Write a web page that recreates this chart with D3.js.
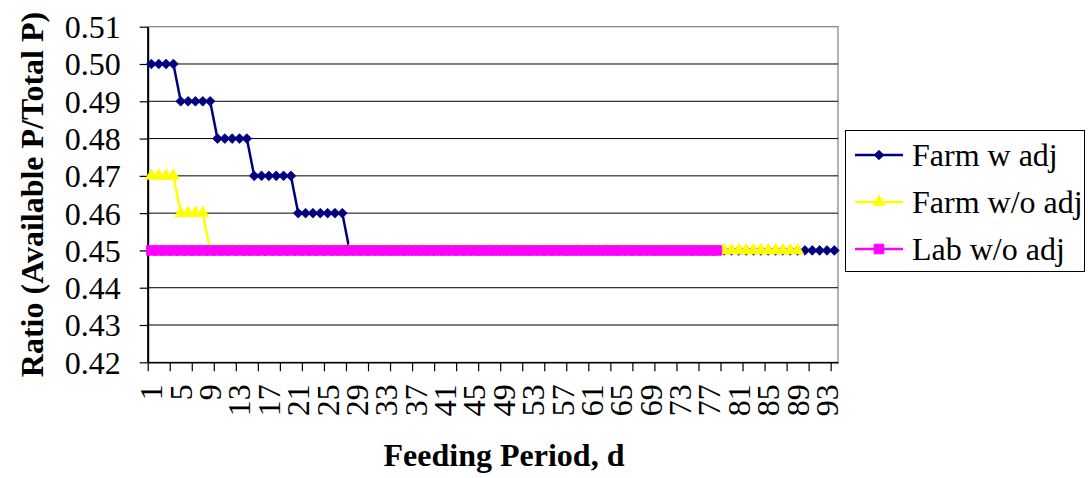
<!DOCTYPE html>
<html>
<head>
<meta charset="utf-8">
<script src="https://cdn.jsdelivr.net/npm/d3@7"></script>
<style>
  html, body { margin: 0; padding: 0; background: #fff; }
  svg { display: block; }
  text { font-family: "Liberation Serif", "Times New Roman", serif; fill: #000; }
</style>
</head>
<body>
<svg id="chart" width="1088" height="478"></svg>
<script>
// Feeding day categories
const days = [
  1, 2, 3, 4, 5, 6, 7, 8, 9, 10, 11, 12, 13, 14, 15, 16, 17, 18, 19, 20,
  21, 22, 23, 24, 25, 26, 27, 28, 29, 30, 31, 32, 33, 34, 35, 36, 37, 38, 39, 40,
  41, 42, 43, 44, 45, 46, 47, 48, 49, 50, 51, 52, 53, 54, 55, 56, 57, 58, 59, 60,
  61, 62, 63, 64, 65, 66, 67, 68, 69, 70, 71, 72, 73, 74, 75, 76, 77, 78, 79, 80,
  81, 82, 83, 84, 85, 86, 87, 88, 89, 90, 91, 92, 93, 94
];

// Ratio of available P to total P, one value per day
const farmWithAdj = [
  0.50, 0.50, 0.50, 0.50,
  0.49, 0.49, 0.49, 0.49, 0.49,
  0.48, 0.48, 0.48, 0.48, 0.48,
  0.47, 0.47, 0.47, 0.47, 0.47, 0.47,
  0.46, 0.46, 0.46, 0.46, 0.46, 0.46, 0.46,
  0.45, 0.45, 0.45, 0.45, 0.45, 0.45, 0.45, 0.45, 0.45, 0.45,
  0.45, 0.45, 0.45, 0.45, 0.45, 0.45, 0.45, 0.45, 0.45, 0.45,
  0.45, 0.45, 0.45, 0.45, 0.45, 0.45, 0.45, 0.45, 0.45, 0.45,
  0.45, 0.45, 0.45, 0.45, 0.45, 0.45, 0.45, 0.45, 0.45, 0.45,
  0.45, 0.45, 0.45, 0.45, 0.45, 0.45, 0.45, 0.45, 0.45, 0.45,
  0.45, 0.45, 0.45, 0.45, 0.45, 0.45, 0.45, 0.45, 0.45, 0.45,
  0.45, 0.45, 0.45, 0.45, 0.45, 0.45, 0.45
];
const farmWithoutAdj = [
  0.47, 0.47, 0.47, 0.47,
  0.46, 0.46, 0.46, 0.46,
  0.45, 0.45, 0.45, 0.45, 0.45, 0.45, 0.45, 0.45, 0.45, 0.45,
  0.45, 0.45, 0.45, 0.45, 0.45, 0.45, 0.45, 0.45, 0.45, 0.45,
  0.45, 0.45, 0.45, 0.45, 0.45, 0.45, 0.45, 0.45, 0.45, 0.45,
  0.45, 0.45, 0.45, 0.45, 0.45, 0.45, 0.45, 0.45, 0.45, 0.45,
  0.45, 0.45, 0.45, 0.45, 0.45, 0.45, 0.45, 0.45, 0.45, 0.45,
  0.45, 0.45, 0.45, 0.45, 0.45, 0.45, 0.45, 0.45, 0.45, 0.45,
  0.45, 0.45, 0.45, 0.45, 0.45, 0.45, 0.45, 0.45, 0.45, 0.45,
  0.45, 0.45, 0.45, 0.45, 0.45, 0.45, 0.45, 0.45, 0.45, 0.45,
  0.45
];
const labWithoutAdj = [
  0.45, 0.45, 0.45, 0.45, 0.45, 0.45, 0.45, 0.45, 0.45, 0.45,
  0.45, 0.45, 0.45, 0.45, 0.45, 0.45, 0.45, 0.45, 0.45, 0.45,
  0.45, 0.45, 0.45, 0.45, 0.45, 0.45, 0.45, 0.45, 0.45, 0.45,
  0.45, 0.45, 0.45, 0.45, 0.45, 0.45, 0.45, 0.45, 0.45, 0.45,
  0.45, 0.45, 0.45, 0.45, 0.45, 0.45, 0.45, 0.45, 0.45, 0.45,
  0.45, 0.45, 0.45, 0.45, 0.45, 0.45, 0.45, 0.45, 0.45, 0.45,
  0.45, 0.45, 0.45, 0.45, 0.45, 0.45, 0.45, 0.45, 0.45, 0.45,
  0.45, 0.45, 0.45, 0.45, 0.45, 0.45, 0.45, 0.45
];

const seriesNames = ["Farm w adj", "Farm w/o adj", "Lab w/o adj"];
const seriesValues = [farmWithAdj, farmWithoutAdj, labWithoutAdj];
const seriesColors = ["#000080", "#FFFF00", "#FF00FF"];
const seriesSymbols = [d3.symbolDiamond2, d3.symbolTriangle, d3.symbolSquare];

// Axis ticks and labels
const yTicks = [0.42, 0.43, 0.44, 0.45, 0.46, 0.47, 0.48, 0.49, 0.50, 0.51];
const xLabelDays = [1, 5, 9, 13, 17, 21, 25, 29, 33, 37, 41, 45, 49, 53, 57, 61, 65, 69, 73, 77, 81, 85, 89, 93];
const xTickBoundaries = [0, 3, 6, 9, 12, 15, 18, 21, 24, 27, 30, 33, 36, 39, 42, 45, 48, 51, 54, 57, 60, 63, 66, 69, 72, 75, 78, 81, 84, 87, 90, 93];

const svg = d3.select("#chart");
const plot = { left: 147.7, right: 838, top: 26.7, bottom: 362.3 };
const FONT = 32;

const x = d3.scaleBand().domain(days).range([plot.left, plot.right]).padding(0);
const xEdge = d3.scaleLinear().domain([0, days.length]).range([plot.left, plot.right]);
const y = d3.scaleLinear().domain([0.42, 0.51]).range([plot.bottom, plot.top]);
const cx = d => x(d) + x.bandwidth() / 2;

// Plot area frame
svg.append("rect")
  .attr("x", plot.left).attr("y", plot.top)
  .attr("width", plot.right - plot.left).attr("height", plot.bottom - plot.top)
  .attr("fill", "#fff").attr("stroke", "#808080").attr("stroke-width", 1.2);

// Horizontal gridlines
svg.append("g")
  .selectAll("line")
  .data(yTicks.slice(1, -1))
  .join("line")
  .attr("x1", plot.left).attr("x2", plot.right)
  .attr("y1", d => y(d)).attr("y2", d => y(d))
  .attr("stroke", "#000").attr("stroke-width", 1);

// Y axis
const yAxis = svg.append("g")
  .attr("transform", `translate(${plot.left},0)`)
  .call(d3.axisLeft(y).tickValues(yTicks).tickFormat(d3.format(".2f")).tickSize(8).tickSizeOuter(0).tickPadding(19));
yAxis.select(".domain").attr("stroke", "#000").attr("stroke-width", 2);
yAxis.selectAll(".tick line").attr("stroke", "#000").attr("stroke-width", 1.2);
yAxis.selectAll("text")
  .attr("font-size", FONT)
  .attr("font-family", "'Liberation Serif', 'Times New Roman', serif")
  .attr("dy", "0.34em");

// X axis: tick marks on category boundaries
const xTickAxis = svg.append("g")
  .attr("transform", `translate(0,${plot.bottom})`)
  .call(d3.axisBottom(xEdge).tickValues(xTickBoundaries).tickFormat("").tickSize(9).tickSizeOuter(0));
xTickAxis.select(".domain").attr("stroke", "#000").attr("stroke-width", 1.5);
xTickAxis.selectAll(".tick line").attr("stroke", "#000").attr("stroke-width", 1.2);

// X axis: rotated day labels at category centres
const xLabelAxis = svg.append("g")
  .attr("transform", `translate(0,${plot.bottom})`)
  .call(d3.axisBottom(x).tickValues(xLabelDays).tickSize(0));
xLabelAxis.select(".domain").remove();
xLabelAxis.selectAll("text")
  .attr("font-size", FONT)
  .attr("font-family", "'Liberation Serif', 'Times New Roman', serif")
  .attr("transform", "rotate(-90)")
  .attr("text-anchor", "end")
  .attr("x", -22)
  .attr("y", 0)
  .attr("dy", "0.34em");

// Series lines and markers
const line = d3.line().x((v, i) => cx(days[i])).y(v => y(v));
seriesValues.forEach((vals, s) => {
  const g = svg.append("g");
  g.append("path")
    .datum(vals)
    .attr("d", line)
    .attr("fill", "none")
    .attr("stroke", seriesColors[s])
    .attr("stroke-width", 2.5);
  g.selectAll("path.marker")
    .data(vals)
    .join("path")
    .attr("class", "marker")
    .attr("transform", (v, i) => `translate(${cx(days[i])},${y(v)})`)
    .attr("d", d3.symbol().type(seriesSymbols[s]).size(s === 1 ? 62 : (s === 2 ? 95 : 60)))
    .attr("fill", seriesColors[s])
    .attr("stroke", seriesColors[s])
    .attr("stroke-width", 0.8);
});

// Axis titles
svg.append("text")
  .attr("transform", `translate(32,${(plot.top + plot.bottom) / 2}) rotate(-90)`)
  .attr("text-anchor", "middle")
  .attr("dy", "0.34em")
  .attr("font-size", FONT)
  .attr("font-weight", "bold")
  .text("Ratio (Available P/Total P)");

svg.append("text")
  .attr("x", 504).attr("y", 466)
  .attr("text-anchor", "middle")
  .attr("font-size", FONT)
  .attr("font-weight", "bold")
  .text("Feeding Period, d");

// Legend
const legend = svg.append("g");
legend.append("rect")
  .attr("x", 845.5).attr("y", 130.5).attr("width", 239).attr("height", 141)
  .attr("fill", "#fff").attr("stroke", "#000").attr("stroke-width", 1);
seriesNames.forEach((name, s) => {
  const ly = 155 + s * 47;
  legend.append("line")
    .attr("x1", 855).attr("x2", 903).attr("y1", ly).attr("y2", ly)
    .attr("stroke", seriesColors[s]).attr("stroke-width", 2.5);
  legend.append("path")
    .attr("transform", `translate(879,${ly})`)
    .attr("d", d3.symbol().type(seriesSymbols[s]).size(s === 1 ? 62 : (s === 2 ? 95 : 60)))
    .attr("fill", seriesColors[s])
    .attr("stroke", seriesColors[s])
    .attr("stroke-width", 0.8);
  legend.append("text")
    .attr("x", 912).attr("y", ly + 10.7)
    .attr("font-size", FONT)
    .text(name);
});
</script>
</body>
</html>
